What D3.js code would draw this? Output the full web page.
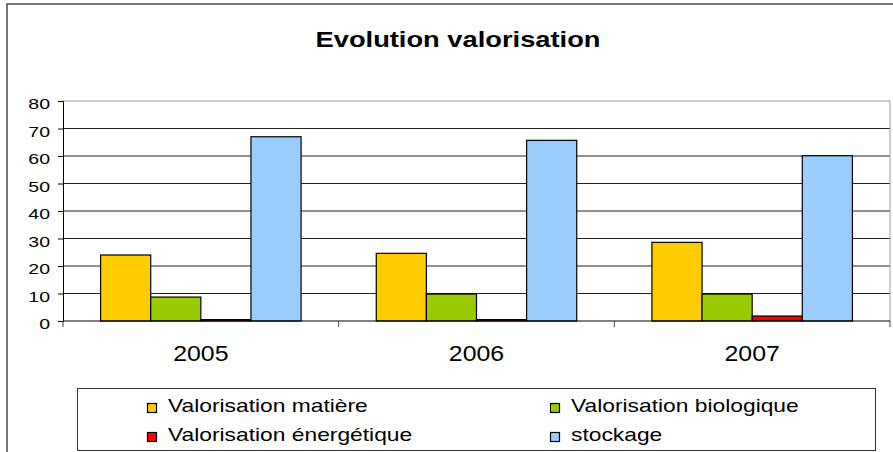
<!DOCTYPE html>
<html>
<head>
<meta charset="utf-8">
<script src="https://cdn.jsdelivr.net/npm/d3@7"></script>
<style>
    body { margin: 0; background: #fff; }
    text { font-family: "Liberation Sans", Arial, sans-serif; fill: #000; }
</style>
</head>
<body>
<svg id="chart"></svg>
<script>
// values
let years = ["2005", "2006", "2007"];
let seriesNames = ["Valorisation matière", "Valorisation biologique", "Valorisation énergétique", "stockage"];
let seriesColors = ["#FFCC00", "#99CC00", "#FF0000", "#99CCFF"];
let matiere = [24, 24.6, 28.6];
let biologique = [8.7, 9.8, 9.8];
let energetique = [0.5, 0.5, 1.8];
let stockage = [67, 65.7, 60.1];
let yTicks = [0, 10, 20, 30, 40, 50, 60, 70, 80];

drawChart();

// widen text horizontally, the source picture is stretched
function stretch(sel, k) {
    sel.each(function () {
        let w = this.getComputedTextLength();
        d3.select(this).attr("textLength", w * k).attr("lengthAdjust", "spacingAndGlyphs");
    });
}

function drawChart() {
    let width = 893, height = 452;
    let plot = {left: 63, right: 890, top: 101, bottom: 321};
    let svg = d3.select("#chart").attr("width", width).attr("height", height);

    // outer frame
    svg.append("rect")
        .attr("x", 7).attr("y", 4)
        .attr("width", 910).attr("height", 470)
        .attr("fill", "#fff").attr("stroke", "#555").attr("stroke-width", 1.6);

    let values = [matiere, biologique, energetique, stockage];
    let table = years.map((y, i) => ({year: y, vals: seriesNames.map((s, j) => ({name: s, v: values[j][i], c: seriesColors[j]}))}));

    let x0 = d3.scaleBand().domain(years).range([plot.left, plot.right]).padding(0);
    let x1 = d3.scaleBand().domain(seriesNames).range([0, x0.bandwidth()]).paddingInner(0).paddingOuter(0.75);
    let y = d3.scaleLinear().domain([0, 80]).range([plot.bottom, plot.top]);

    // gridlines
    svg.append("g").selectAll("line")
        .data(yTicks.slice(1))
        .join("line")
        .attr("x1", plot.left).attr("x2", plot.right)
        .attr("y1", d => y(d)).attr("y2", d => y(d))
        .attr("stroke", d => d === 80 ? "#999" : "#222").attr("stroke-width", 1);
    // right border of plot
    svg.append("line")
        .attr("x1", plot.right).attr("x2", plot.right)
        .attr("y1", plot.top).attr("y2", plot.bottom)
        .attr("stroke", "#999");

    // bars
    let groups = svg.append("g").selectAll("g")
        .data(table)
        .join("g")
        .attr("transform", d => `translate(${x0(d.year)},0)`);
    groups.selectAll("rect")
        .data(d => d.vals)
        .join("rect")
        .attr("x", d => x1(d.name))
        .attr("width", x1.bandwidth())
        .attr("y", d => y(d.v))
        .attr("height", d => y(0) - y(d.v))
        .attr("fill", d => d.c)
        .attr("stroke", "#000").attr("stroke-width", 1.2);

    // y axis
    let yAxis = svg.append("g")
        .attr("transform", `translate(${plot.left},0)`)
        .call(d3.axisLeft(y).tickValues(yTicks).tickSize(5).tickPadding(8));
    yAxis.select(".domain").attr("stroke", "#000");
    yAxis.selectAll(".tick line").attr("stroke", "#000");
    yAxis.selectAll(".tick text")
        .attr("font-size", 15).attr("font-family", null).attr("dy", "0.5em");
    stretch(yAxis.selectAll(".tick text"), 1.3);

    // x axis
    let xAxis = svg.append("g")
        .attr("transform", `translate(0,${plot.bottom})`);
    xAxis.append("line")
        .attr("x1", plot.left).attr("x2", plot.right)
        .attr("stroke", "#000");
    xAxis.selectAll(".xt")
        .data(years.map(d => x0(d)).concat([plot.right]))
        .join("line")
        .attr("class", "xt")
        .attr("x1", d => d).attr("x2", d => d)
        .attr("y1", 0).attr("y2", 6)
        .attr("stroke", "#444");
    let xl = xAxis.selectAll(".xl")
        .data(years)
        .join("text")
        .attr("class", "xl")
        .attr("x", d => x0(d) + x0.bandwidth() / 2)
        .attr("y", 40)
        .attr("text-anchor", "middle")
        .attr("font-size", 22)
        .text(d => d);
    stretch(xl, 1.13);

    // title
    let title = svg.append("text")
        .attr("x", 458).attr("y", 47)
        .attr("text-anchor", "middle")
        .attr("font-size", 22).attr("font-weight", "bold")
        .text("Evolution valorisation");
    stretch(title, 1.24);

    // legend
    let legend = svg.append("g");
    legend.append("rect")
        .attr("x", 77.5).attr("y", 388.5)
        .attr("width", 798).attr("height", 62)
        .attr("fill", "#fff").attr("stroke", "#333");
    let colX = [147, 550], rowY = [412, 441];
    let items = legend.selectAll("g")
        .data(seriesNames)
        .join("g")
        .attr("transform", (d, i) => `translate(${colX[i % 2]},${rowY[Math.floor(i / 2)]})`);
    items.append("rect")
        .attr("x", 0.5).attr("y", -8.5)
        .attr("width", 9).attr("height", 9)
        .attr("fill", (d, i) => seriesColors[i])
        .attr("stroke", "#000").attr("stroke-width", 1.2);
    let lt = items.append("text")
        .attr("x", 21).attr("y", 0)
        .attr("font-size", 19)
        .text(d => d);
    stretch(lt, 1.2);
}
</script>
</body>
</html>
